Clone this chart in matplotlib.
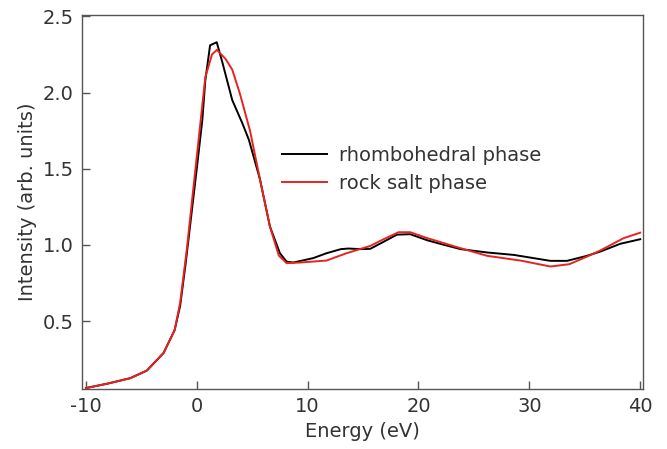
import matplotlib
matplotlib.use("Agg")
import matplotlib.pyplot as plt

# energy (eV) / intensity
rhombo_e = [-10, -8, -6, -4.5, -3, -2, -1.5, -1, 0, 0.5, 0.77, 1.2, 1.8, 2.3, 3.2,
            4.1, 4.7, 5.7, 6.6, 7.5, 8.1, 8.7, 10.5, 11.7, 13.0, 13.7, 14.75,
            15.65, 16.85, 18.05, 19.25, 20.8, 22.3, 23.8, 26.2, 28.6, 31.9, 33.4,
            35.2, 36.4, 38.2, 40]
rhombo_i = [0.06, 0.09, 0.125, 0.175, 0.29, 0.44, 0.60, 0.88, 1.50, 1.82, 2.08, 2.31,
            2.33, 2.20, 1.95, 1.80, 1.69, 1.43, 1.12, 0.945, 0.89, 0.884, 0.913,
            0.945, 0.972, 0.976, 0.972, 0.974, 1.02, 1.067, 1.07, 1.03, 1.0,
            0.972, 0.95, 0.934, 0.895, 0.895, 0.928, 0.956, 1.007, 1.037]

rocksalt_e = [-10, -8, -6, -4.5, -3, -2, -1.5, -0.9, 0, 0.77, 1.37, 1.82, 2.6, 3.2,
              3.9, 4.8, 5.7, 6.6, 7.4, 8.1, 9.3, 11.7, 13.5, 15.65, 16.85, 18.2,
              19.25, 20.8, 22.3, 23.8, 26.2, 29.2, 31.9, 33.6, 35.2, 36.4, 38.5, 40]
rocksalt_i = [0.06, 0.09, 0.125, 0.175, 0.29, 0.44, 0.62, 0.97, 1.58, 2.10, 2.25,
              2.28, 2.22, 2.15, 1.99, 1.75, 1.43, 1.12, 0.93, 0.88, 0.884, 0.897,
              0.945, 0.993, 1.037, 1.083, 1.083, 1.044, 1.011, 0.978, 0.928,
              0.897, 0.858, 0.873, 0.923, 0.963, 1.044, 1.08]

xticks = [-10, 0, 10, 20, 30, 40]
yticks = [0.5, 1.0, 1.5, 2.0, 2.5]

txt = "#333333"
plt.rcParams['font.family'] = ['DejaVu Sans']

fig = plt.figure(figsize=(6.67, 4.49), dpi=100)
ax = fig.add_axes([0.123, 0.134, 0.841, 0.833])

ax.plot(rhombo_e, rhombo_i, color="black", lw=1.4, label="rhombohedral phase")
ax.plot(rocksalt_e, rocksalt_i, color="#e8221e", lw=1.4, label="rock salt phase")

ax.set_xlim(-10.35, 40.25)
ax.set_ylim(0.055, 2.51)
ax.set_xticks(xticks)
ax.set_yticks(yticks)
ax.set_xticklabels([str(t) for t in xticks])
ax.set_yticklabels(["%.1f" % t for t in yticks])
ax.tick_params(direction="in", length=6, width=1, color="#555555",
               labelsize=14, labelcolor=txt, pad=6)
for s in ax.spines.values():
    s.set_color("#555555")
    s.set_linewidth(1)

ax.set_xlabel("Energy (eV)", fontsize=14, color=txt, labelpad=4)
ax.set_ylabel("Intensity (arb. units)", fontsize=14, color=txt, labelpad=4)

leg = ax.legend(loc="center left", bbox_to_anchor=(0.357, 0.587), frameon=False,
                fontsize=14, handlelength=2.3, handletextpad=0.6,
                borderaxespad=0, borderpad=0, labelspacing=0.45)
for t in leg.get_texts():
    t.set_color(txt)

fig.savefig("out.png", dpi=100)
